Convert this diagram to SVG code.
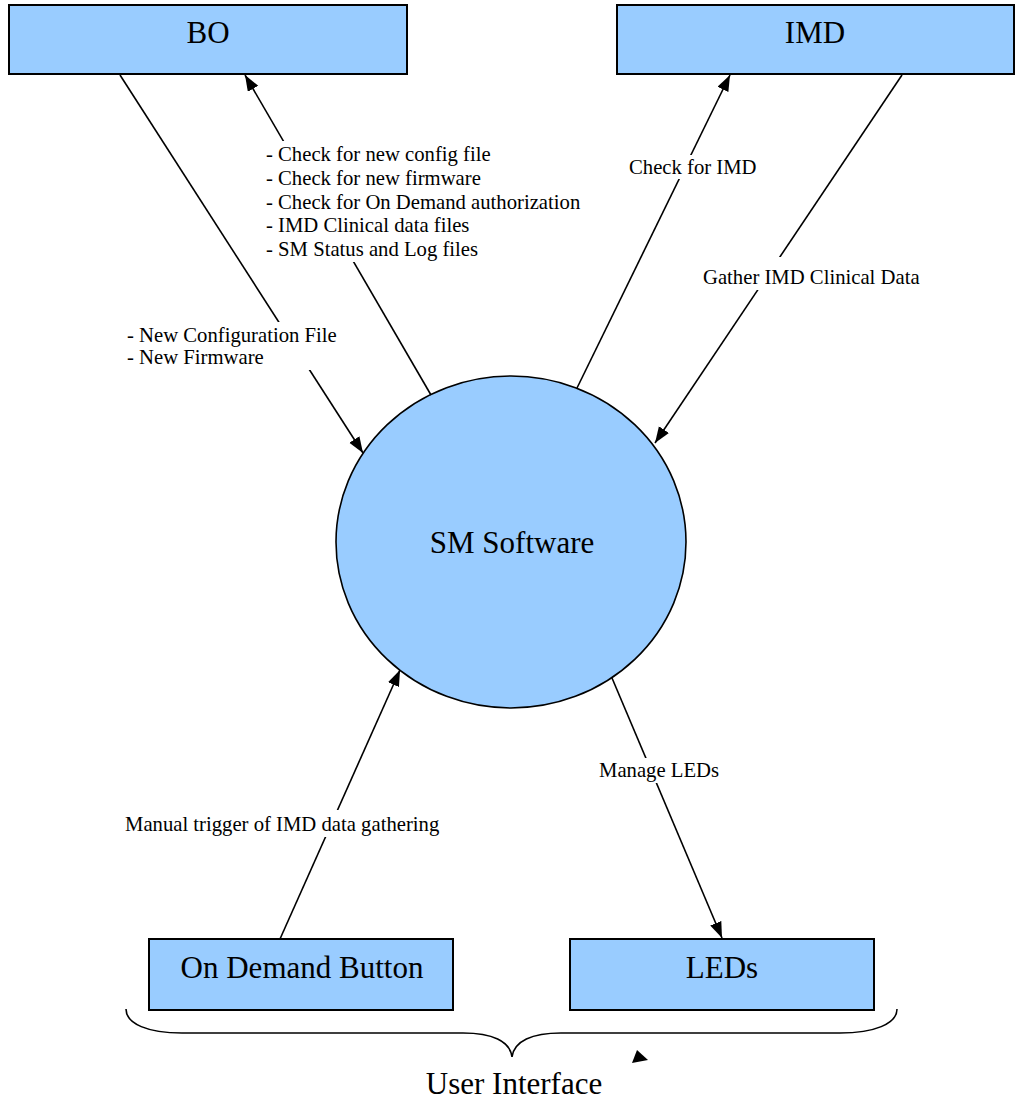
<svg xmlns="http://www.w3.org/2000/svg" width="1015" height="1102" viewBox="0 0 1015 1102">
  <style>
    .node { fill: #99CCFF; stroke: #000; stroke-width: 2; }
    .ell { fill: #99CCFF; stroke: #000; stroke-width: 1.6; }
    .ntext { font-family: "Liberation Serif", "Times New Roman", serif; font-size: 31px; fill: #000; text-anchor: middle; }
    .edge { stroke: #000; stroke-width: 1.6; fill: none; marker-end: url(#arrow); }
    .lbg { fill: #fff; stroke: none; }
    .ltext { font-family: "Liberation Serif", "Times New Roman", serif; font-size: 20.7px; fill: #000; }
    .brace { stroke: #000; stroke-width: 1.6; fill: none; }
  </style>
  <defs>
    <marker id="arrow" markerUnits="userSpaceOnUse" markerWidth="17" markerHeight="13" refX="16" refY="6" orient="auto">
      <path d="M0,0 L16,6 L0,12 z" fill="#000"/>
    </marker>
  </defs>
  <rect width="1015" height="1102" fill="#fff"/>

  <g id="node-bo">
    <rect class="node" x="9" y="5" width="398" height="69"/>
    <text class="ntext" x="208" y="43">BO</text>
  </g>
  <g id="node-imd">
    <rect class="node" x="617" y="5" width="397" height="69"/>
    <text class="ntext" x="815" y="43">IMD</text>
  </g>
  <g id="node-sm">
    <ellipse class="ell" cx="511" cy="542" rx="175" ry="166"/>
    <text class="ntext" x="512" y="553">SM Software</text>
  </g>
  <g id="node-ondemand">
    <rect class="node" x="149" y="939" width="304" height="71"/>
    <text class="ntext" x="302" y="978">On Demand Button</text>
  </g>
  <g id="node-leds">
    <rect class="node" x="570" y="939" width="304" height="71"/>
    <text class="ntext" x="722" y="978">LEDs</text>
  </g>
  <g id="node-ui">
    <path class="brace" d="M126,1009 C126,1024 148,1033 182,1033 L463,1033 C492,1033 510,1041 512,1057 C514,1041 532,1033 561,1033 L840,1033 C874,1033 897,1024 897,1009"/>
    <text class="ntext" x="514" y="1094">User Interface</text>
  </g>

  <g id="connectors">
    <line class="edge" x1="120" y1="75" x2="363" y2="453"/>
    <line class="edge" x1="431" y1="395" x2="245" y2="75"/>
    <line class="edge" x1="577" y1="388" x2="730" y2="75"/>
    <line class="edge" x1="902" y1="75" x2="655" y2="443"/>
    <line class="edge" x1="280" y1="939" x2="400" y2="670"/>
    <line class="edge" x1="612" y1="678" x2="722" y2="938"/>
    <polygon points="632,1063 637,1050 648,1060" fill="#000"/>

    <rect class="lbg" x="125" y="322" width="214" height="48"/>
    <text class="ltext" x="127" y="342">- New Configuration File</text>
    <text class="ltext" x="127" y="364">- New Firmware</text>

    <rect class="lbg" x="264" y="141" width="318" height="121"/>
    <text class="ltext" x="266" y="161">- Check for new config file</text>
    <text class="ltext" x="266" y="185">- Check for new firmware</text>
    <text class="ltext" x="266" y="209">- Check for On Demand authorization</text>
    <text class="ltext" x="266" y="232">- IMD Clinical data files</text>
    <text class="ltext" x="266" y="256">- SM Status and Log files</text>

    <rect class="lbg" x="627" y="155" width="132" height="24"/>
    <text class="ltext" x="629" y="174">Check for IMD</text>

    <rect class="lbg" x="701" y="257" width="221" height="33"/>
    <text class="ltext" x="703" y="284">Gather IMD Clinical Data</text>

    <rect class="lbg" x="123" y="810" width="319" height="27"/>
    <text class="ltext" x="125" y="831">Manual trigger of IMD data gathering</text>

    <rect class="lbg" x="597" y="758" width="124" height="25"/>
    <text class="ltext" x="599" y="777">Manage LEDs</text>
  </g>
</svg>
